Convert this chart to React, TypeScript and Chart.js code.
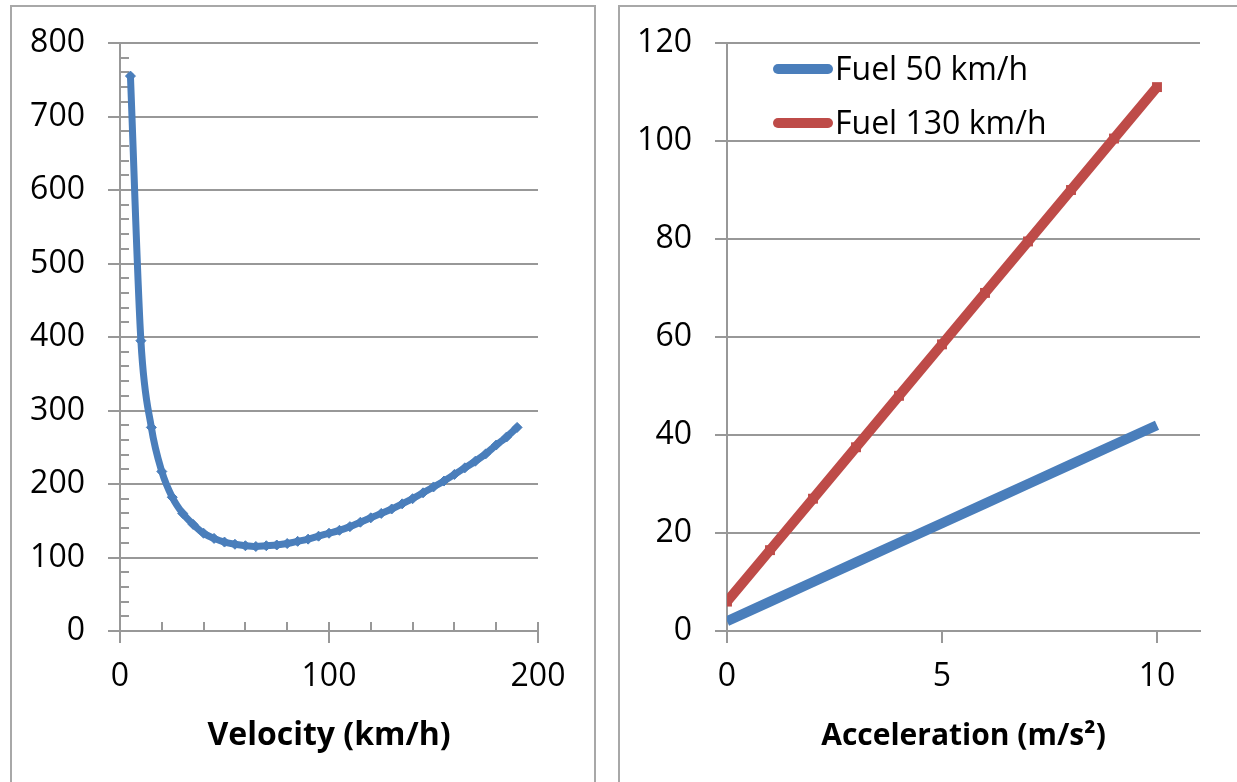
import { useEffect, useRef } from 'react';
import { Chart, registerables } from 'chart.js';

Chart.register(...registerables);

// ---------- data ----------
const velocity = [5, 10, 15, 20, 25, 30, 35, 40, 45, 50, 55, 60, 65, 70, 75, 80, 85, 90, 95, 100,
  105, 110, 115, 120, 125, 130, 135, 140, 145, 150, 155, 160, 165, 170, 175, 180, 185, 190];
const fuelByVelocity = [755, 395, 277, 217, 182, 160, 145, 133, 126, 121, 118, 116, 115, 116, 117, 119, 122, 125, 129, 133,
  137, 142, 148, 154, 160, 166, 173, 180, 188, 196, 204, 213, 222, 231, 241, 253, 264, 277];

const acceleration = [0, 1, 2, 3, 4, 5, 6, 7, 8, 9, 10];
const fuel50 = [2, 6, 10, 14, 18, 22, 26, 30, 34, 38, 42];
const fuel130 = [6, 16.5, 27, 37.5, 48, 58.5, 69, 79.5, 90, 100.5, 111];

const seriesLabels = ['Fuel 50 km/h', 'Fuel 130 km/h'];
const leftXTitle = 'Velocity (km/h)';
const rightXTitle = 'Acceleration (m/s\u00B2)';

// ---------- style ----------
const BLUE = '#4a7ebb';
const RED = '#be4b48';
const GRID = '#989898';
const FONT = '"Open Sans", "Liberation Sans", sans-serif';

const minorTicksPlugin = {
  id: 'minorTicks',
  beforeDatasetsDraw(chart: any) {
    const { ctx, chartArea, scales } = chart;
    const x = scales.x;
    const y = scales.y;
    ctx.save();
    ctx.strokeStyle = GRID;
    ctx.lineWidth = 2;
    ctx.beginPath();
    for (let v = y.min + 20; v < y.max; v += 20) {
      const py = Math.round(y.getPixelForValue(v));
      ctx.moveTo(chartArea.left, py);
      ctx.lineTo(chartArea.left + 9, py);
    }
    for (let v = x.min + 20; v <= x.max; v += 20) {
      const px = Math.round(x.getPixelForValue(v));
      ctx.moveTo(px, chartArea.bottom);
      ctx.lineTo(px, chartArea.bottom - 9);
    }
    ctx.stroke();
    ctx.restore();
  },
};

const legendPlugin = {
  id: 'customLegend',
  afterDraw(chart: any) {
    const { ctx, chartArea } = chart;
    const items = [
      { color: BLUE, label: seriesLabels[0], dy: 26 },
      { color: RED, label: seriesLabels[1], dy: 80 },
    ];
    ctx.save();
    items.forEach((it) => {
      const yy = chartArea.top + it.dy;
      ctx.strokeStyle = it.color;
      ctx.lineWidth = 10;
      ctx.lineCap = 'round';
      ctx.beginPath();
      ctx.moveTo(chartArea.left + 51, yy);
      ctx.lineTo(chartArea.left + 101, yy);
      ctx.stroke();
      ctx.fillStyle = '#000';
      ctx.font = `32px ${FONT}`;
      ctx.textBaseline = 'middle';
      ctx.textAlign = 'left';
      ctx.fillText(it.label, chartArea.left + 108, yy + 2);
    });
    ctx.restore();
  },
};

function axisCommon() {
  return {
    border: { display: true, color: GRID, width: 2 },
    ticks: { color: '#000', font: { family: FONT, size: 32 } },
  };
}

function LeftChart() {
  const ref = useRef<HTMLCanvasElement>(null);
  useEffect(() => {
    const chart = new Chart(ref.current as HTMLCanvasElement, {
      type: 'line',
      data: {
        datasets: [
          {
            data: velocity.map((v, i) => ({ x: v, y: fuelByVelocity[i] })),
            borderColor: BLUE,
            backgroundColor: BLUE,
            borderWidth: 7,
            cubicInterpolationMode: 'monotone',
            borderCapStyle: 'round',
            borderJoinStyle: 'round',
            pointStyle: 'rectRot',
            pointRadius: 5,
            pointBorderWidth: 1,
            pointBackgroundColor: BLUE,
            pointBorderColor: BLUE,
          },
        ],
      },
      options: {
        responsive: false,
        animation: false,
        layout: { padding: { left: 0, top: 43, right: 62, bottom: 0 } },
        plugins: { legend: { display: false }, tooltip: { enabled: false } },
        scales: {
          x: {
            type: 'linear',
            min: 0,
            max: 200,
            ...axisCommon(),
            ticks: { ...axisCommon().ticks, stepSize: 100, padding: 15, maxRotation: 0 },
            grid: { drawOnChartArea: false, drawTicks: true, tickLength: 12, color: GRID, lineWidth: 2 },
            title: {
              display: true,
              text: leftXTitle,
              color: '#000',
              font: { family: FONT, size: 32, weight: 'bold' },
              padding: { top: 27, bottom: 27 },
            },
            afterFit: (s: any) => { s.height = 151; },
          },
          y: {
            type: 'linear',
            min: 0,
            max: 800,
            ...axisCommon(),
            ticks: { ...axisCommon().ticks, stepSize: 100, padding: 23 },
            grid: { color: GRID, lineWidth: 2, tickLength: 12, drawTicks: true },
            afterFit: (s: any) => { s.width = 120; },
          },
        },
      },
      plugins: [minorTicksPlugin],
    } as any);
    return () => chart.destroy();
  }, []);
  return (
    <canvas
      ref={ref}
      width={600}
      height={782}
      style={{ position: 'absolute', left: 0, top: 0, width: 600, height: 782 }}
    />
  );
}

function RightChart() {
  const ref = useRef<HTMLCanvasElement>(null);
  useEffect(() => {
    const chart = new Chart(ref.current as HTMLCanvasElement, {
      type: 'line',
      data: {
        datasets: [
          {
            label: seriesLabels[0],
            data: acceleration.map((a, i) => ({ x: a, y: fuel50[i] })),
            borderColor: BLUE,
            backgroundColor: BLUE,
            borderWidth: 10,
            borderCapStyle: 'butt',
            borderJoinStyle: 'round',
            pointRadius: 0,
          },
          {
            label: seriesLabels[1],
            data: acceleration.map((a, i) => ({ x: a, y: fuel130[i] })),
            borderColor: RED,
            backgroundColor: RED,
            borderWidth: 10,
            borderCapStyle: 'butt',
            borderJoinStyle: 'round',
            pointStyle: 'rect',
            pointRadius: 7,
            pointBorderWidth: 0,
            pointBackgroundColor: RED,
            pointBorderColor: RED,
          },
        ],
      },
      options: {
        responsive: false,
        animation: false,
        layout: { padding: { left: 0, top: 43, right: 37, bottom: 0 } },
        plugins: { legend: { display: false }, tooltip: { enabled: false } },
        scales: {
          x: {
            type: 'linear',
            min: 0,
            max: 11,
            ...axisCommon(),
            ticks: { ...axisCommon().ticks, stepSize: 5, padding: 15, maxRotation: 0, includeBounds: false },
            grid: { drawOnChartArea: false, drawTicks: true, tickLength: 12, color: GRID, lineWidth: 2 },
            title: {
              display: true,
              text: rightXTitle,
              color: '#000',
              font: { family: FONT, size: 30, weight: 'bold' },
              padding: { top: 28, bottom: 28 },
            },
            afterFit: (s: any) => { s.height = 151; },
          },
          y: {
            type: 'linear',
            min: 0,
            max: 120,
            ...axisCommon(),
            ticks: { ...axisCommon().ticks, stepSize: 20, padding: 23 },
            grid: { color: GRID, lineWidth: 2, tickLength: 12, drawTicks: true },
            afterFit: (s: any) => { s.width = 107; },
          },
        },
      },
      plugins: [legendPlugin],
    } as any);
    return () => chart.destroy();
  }, []);
  return (
    <canvas
      ref={ref}
      width={617}
      height={782}
      style={{ position: 'absolute', left: 620, top: 0, width: 617, height: 782 }}
    />
  );
}

export default function App() {
  return (
    <div style={{ position: 'absolute', left: 0, top: 0, width: 1237, height: 782, overflow: 'hidden', background: '#fff' }}>
      <div
        style={{
          position: 'absolute', left: 10, top: 5, width: 586, height: 800,
          border: '2px solid #a8a8a8', boxSizing: 'border-box',
        }}
      />
      <div
        style={{
          position: 'absolute', left: 618, top: 5, width: 700, height: 800,
          border: '2px solid #a8a8a8', boxSizing: 'border-box',
        }}
      />
      <LeftChart />
      <RightChart />
    </div>
  );
}
